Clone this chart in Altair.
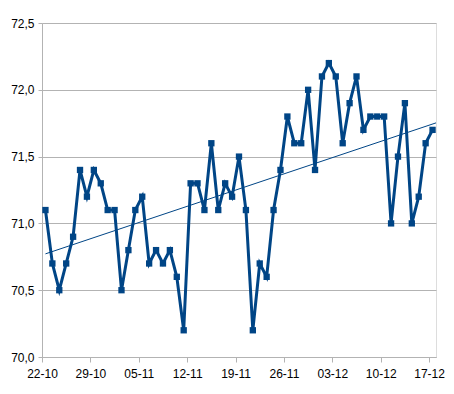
import altair as alt
import pandas as pd

dates = (
    [f"2012-10-{d:02d}" for d in range(22, 32)]
    + [f"2012-11-{d:02d}" for d in range(1, 31)]
    + [f"2012-12-{d:02d}" for d in range(1, 18)]
)
values = [
    71.1, 70.7, 70.5, 70.7, 70.9, 71.4, 71.2, 71.4, 71.3, 71.1,
    71.1, 70.5, 70.8, 71.1, 71.2, 70.7, 70.8, 70.7, 70.8, 70.6,
    70.2, 71.3, 71.3, 71.1, 71.6, 71.1, 71.3, 71.2, 71.5, 71.1,
    70.2, 70.7, 70.6, 71.1, 71.4, 71.8, 71.6, 71.6, 72.0, 71.4,
    72.1, 72.2, 72.1, 71.6, 71.9, 72.1, 71.7, 71.8, 71.8, 71.8,
    71.0, 71.5, 71.9, 71.0, 71.2, 71.6, 71.7,
]
tick_dates = ["2012-10-22", "2012-10-29", "2012-11-05", "2012-11-12",
              "2012-11-19", "2012-11-26", "2012-12-03", "2012-12-10", "2012-12-17"]

df = pd.DataFrame({"date": [d + "T12:00:00Z" for d in dates], "value": values})

def ms(s):
    return int(pd.Timestamp(s, tz="UTC").value // 10**6)

dom = [ms("2012-10-22T00:00:00"), ms("2012-12-18T00:00:00")]
tick_vals = [ms(d + "T00:00:00") for d in tick_dates]

BLUE = "#004586"
GRID = "#b3b3b3"

x_enc = alt.X(
    "ms:T",
    scale=alt.Scale(type="utc", domain=dom, nice=False),
    axis=alt.Axis(
        values=tick_vals, labelExpr="utcFormat(datum.value, '%d-%m')", title=None,
        grid=False, tickSize=5, tickColor=GRID, domainColor=GRID,
        labelFont="Liberation Sans", labelFontSize=12, labelColor="#000000",
        labelPadding=6, labelFlush=False, labelOverlap=False,
    ),
)
y_enc = alt.Y(
    "value:Q",
    scale=alt.Scale(domain=[70.0, 72.5], nice=False, zero=False),
    axis=alt.Axis(
        values=[70.0, 70.5, 71.0, 71.5, 72.0, 72.5],
        labelExpr="replace(format(datum.value, '.1f'), '.', ',')",
        title=None, grid=True, gridColor=GRID, tickSize=4, tickColor=GRID,
        domainColor=GRID, labelFont="Liberation Sans", labelFontSize=12,
        labelColor="#000000", labelPadding=4,
    ),
)

base = alt.Chart(df).transform_calculate(ms="+toDate(datum.date)")

line = base.mark_line(color=BLUE, strokeWidth=3, point=alt.OverlayMarkDef(
    shape="square", size=40, color=BLUE, filled=True, opacity=1)).encode(x=x_enc, y=y_enc)

trend = base.transform_regression(
    "ms", "value", extent=[ms("2012-10-22T12:00:00"), dom[1]]
).mark_line(color=BLUE, strokeWidth=1).encode(x=x_enc, y=y_enc)

chart = (
    alt.layer(line, trend)
    .properties(
        width=394, height=334,
        autosize=alt.AutoSizeParams(type="none"),
        padding={"left": 34, "top": 15, "right": 9, "bottom": 28},
    )
    .configure_view(stroke=GRID, strokeWidth=1)
    .configure(background="white")
)

chart.save("out.html", embed_options={"renderer": "svg", "actions": False})
